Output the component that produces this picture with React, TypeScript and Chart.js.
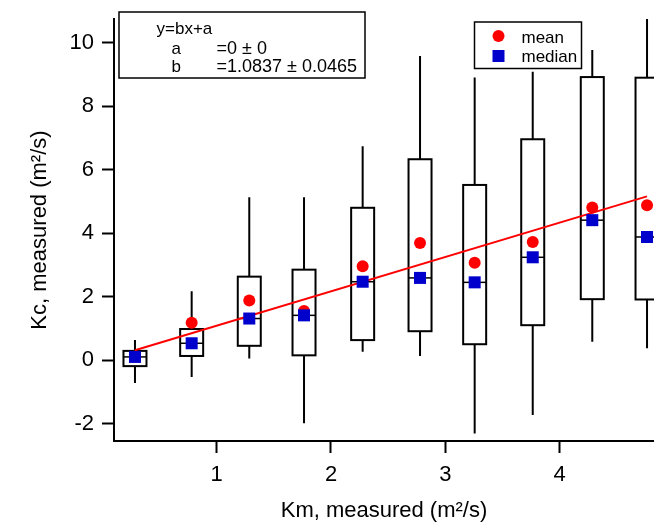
import { useEffect, useRef } from 'react';
import { Chart, registerables } from 'chart.js';

Chart.register(...registerables);

// ---- data ----
const binCenters = [0.285, 0.781, 1.285, 1.764, 2.277, 2.779, 3.257, 3.765, 4.286, 4.765];
const whiskerHigh = [0.63, 2.17, 5.13, 5.13, 6.74, 9.58, 8.91, 9.09, 9.77, 10.75];
const q3Values = [0.29, 0.98, 2.63, 2.85, 4.8, 6.33, 5.52, 6.96, 8.92, 8.9];
const medianValues = [0.1, 0.53, 1.31, 1.41, 2.47, 2.59, 2.45, 3.24, 4.41, 3.88];
const q1Values = [-0.19, 0.13, 0.45, 0.15, 0.63, 0.91, 0.5, 1.1, 1.92, 1.91];
const whiskerLow = [-0.72, -0.53, 0.05, -1.99, 0.26, 0.13, -2.31, -1.73, 0.58, 0.37];
const meanValues = [0.11, 1.18, 1.88, 1.55, 2.96, 3.69, 3.07, 3.72, 4.81, 4.88];
const fitX = [0.285, 4.765];
const fitY = [0.31, 5.16];
const xTicks = [1, 2, 3, 4];
const yTicks = [-2, 0, 2, 4, 6, 8, 10];
const fitLabels = ['y=bx+a', 'a', 'b'];
const fitValues = ['', '=0 ± 0', '=1.0837 ± 0.0465'];
const legendLabels = ['mean', 'median'];

const FONT = '"Liberation Sans", Arial, sans-serif';
const RED = '#ff0000';
const BLUE = '#0000cc';
const BOX_HALF = 11.5;

const boxPlugin = {
  id: 'boxes',
  beforeDatasetsDraw(chart: any) {
    const { ctx, chartArea, scales } = chart;
    const x = scales.x;
    const y = scales.y;
    ctx.save();
    ctx.beginPath();
    ctx.rect(chartArea.left, chartArea.top, chartArea.right - chartArea.left, chartArea.bottom - chartArea.top);
    ctx.clip();
    ctx.strokeStyle = '#000';
    binCenters.forEach((c, i) => {
      const px = x.getPixelForValue(c);
      const wt = y.getPixelForValue(whiskerHigh[i]);
      const wb = y.getPixelForValue(whiskerLow[i]);
      const t = y.getPixelForValue(q3Values[i]);
      const b = y.getPixelForValue(q1Values[i]);
      const m = y.getPixelForValue(medianValues[i]);
      ctx.lineWidth = 2;
      ctx.beginPath();
      ctx.moveTo(px, wt);
      ctx.lineTo(px, t);
      ctx.moveTo(px, b);
      ctx.lineTo(px, wb);
      ctx.stroke();
      ctx.strokeRect(px - BOX_HALF, t, BOX_HALF * 2, b - t);
      ctx.lineWidth = 1.5;
      ctx.beginPath();
      ctx.moveTo(px - BOX_HALF, m);
      ctx.lineTo(px + BOX_HALF, m);
      ctx.stroke();
    });
    ctx.restore();
  },
};

const notesPlugin = {
  id: 'notes',
  afterDraw(chart: any) {
    const { ctx } = chart;
    ctx.save();
    // fit annotation box
    ctx.fillStyle = '#fff';
    ctx.fillRect(119, 12, 246, 66);
    ctx.strokeStyle = '#000';
    ctx.lineWidth = 1.5;
    ctx.strokeRect(119, 12, 246, 66);
    ctx.fillStyle = '#000';
    ctx.textBaseline = 'alphabetic';
    ctx.textAlign = 'left';
    const baselines = [33.5, 53.5, 71.5];
    fitLabels.forEach((lab, i) => {
      ctx.font = `17px ${FONT}`;
      ctx.fillText(lab, i === 0 ? 156.5 : 171.5, baselines[i]);
      if (fitValues[i]) {
        ctx.font = `18px ${FONT}`;
        ctx.fillText(fitValues[i], 216.5, baselines[i]);
      }
    });
    // legend box
    ctx.font = `17px ${FONT}`;
    ctx.fillStyle = '#fff';
    ctx.fillRect(474.5, 22, 107, 46.5);
    ctx.strokeRect(474.5, 22, 107, 46.5);
    ctx.fillStyle = RED;
    ctx.beginPath();
    ctx.arc(498.5, 36, 6, 0, Math.PI * 2);
    ctx.fill();
    ctx.fillStyle = BLUE;
    ctx.fillRect(492.5, 50, 12, 12);
    ctx.fillStyle = '#000';
    ctx.fillText(legendLabels[0], 521.5, 42.5);
    ctx.fillText(legendLabels[1], 521.5, 61.5);
    ctx.restore();
  },
};

export default function App() {
  const ref = useRef<HTMLCanvasElement | null>(null);
  useEffect(() => {
    document.body.style.margin = '0';
    if (!ref.current) return;
    const chart = new Chart(ref.current, {
      type: 'scatter',
      data: {
        datasets: [
          {
            label: 'median',
            data: binCenters.map((c, i) => ({ x: c, y: medianValues[i] })),
            pointStyle: 'rect',
            pointRadius: 8.5,
            backgroundColor: BLUE,
            borderWidth: 0,
            order: 0,
          },
          {
            label: 'mean',
            data: binCenters.map((c, i) => ({ x: c, y: meanValues[i] })),
            pointStyle: 'circle',
            pointRadius: 6,
            backgroundColor: RED,
            borderWidth: 0,
            order: 1,
          },
          {
            label: 'fit',
            data: fitX.map((v, i) => ({ x: v, y: fitY[i] })),
            showLine: true,
            borderColor: RED,
            borderWidth: 2,
            pointRadius: 0,
            order: 2,
          } as any,
        ],
      },
      options: {
        animation: false,
        responsive: false,
        events: [],
        layout: { autoPadding: false, padding: { top: 19, right: 0, left: 0, bottom: 0 } },
        plugins: { legend: { display: false }, tooltip: { enabled: false } },
        scales: {
          x: {
            type: 'linear',
            min: 0.1015,
            max: 4.826,
            afterFit: (s: any) => {
              s.height = 83;
              s.paddingLeft = 0;
              s.paddingRight = 0;
            },
            afterBuildTicks: (s: any) => {
              s.ticks = xTicks.map((v) => ({ value: v }));
            },
            border: { display: true, color: '#000', width: 2 },
            grid: { drawOnChartArea: false, drawTicks: true, tickLength: 12, tickWidth: 2, tickColor: '#000' },
            ticks: { color: '#000', font: { family: FONT, size: 22 }, padding: 9, callback: (v: any) => String(v) },
            title: {
              display: true,
              text: 'Km, measured (m²/s)',
              color: '#000',
              font: { family: FONT, size: 22 },
              padding: { top: 0, bottom: 0 },
            },
          },
          y: {
            type: 'linear',
            min: -2.55,
            max: 10.75,
            afterFit: (s: any) => {
              s.width = 114;
              s.paddingTop = 0;
              s.paddingBottom = 0;
            },
            afterBuildTicks: (s: any) => {
              s.ticks = yTicks.map((v) => ({ value: v }));
            },
            border: { display: true, color: '#000', width: 2 },
            grid: { drawOnChartArea: false, drawTicks: true, tickLength: 12, tickWidth: 2, tickColor: '#000' },
            ticks: { color: '#000', font: { family: FONT, size: 22 }, padding: 8, callback: (v: any) => String(v) },
            title: {
              display: true,
              text: 'Kc, measured (m²/s)',
              color: '#000',
              font: { family: FONT, size: 22 },
              padding: { top: 27, bottom: 0 },
            },
          },
        },
      },
      plugins: [boxPlugin, notesPlugin],
    });
    return () => chart.destroy();
  }, []);
  return <canvas ref={ref} width={654} height={524} style={{ display: 'block' }} />;
}
